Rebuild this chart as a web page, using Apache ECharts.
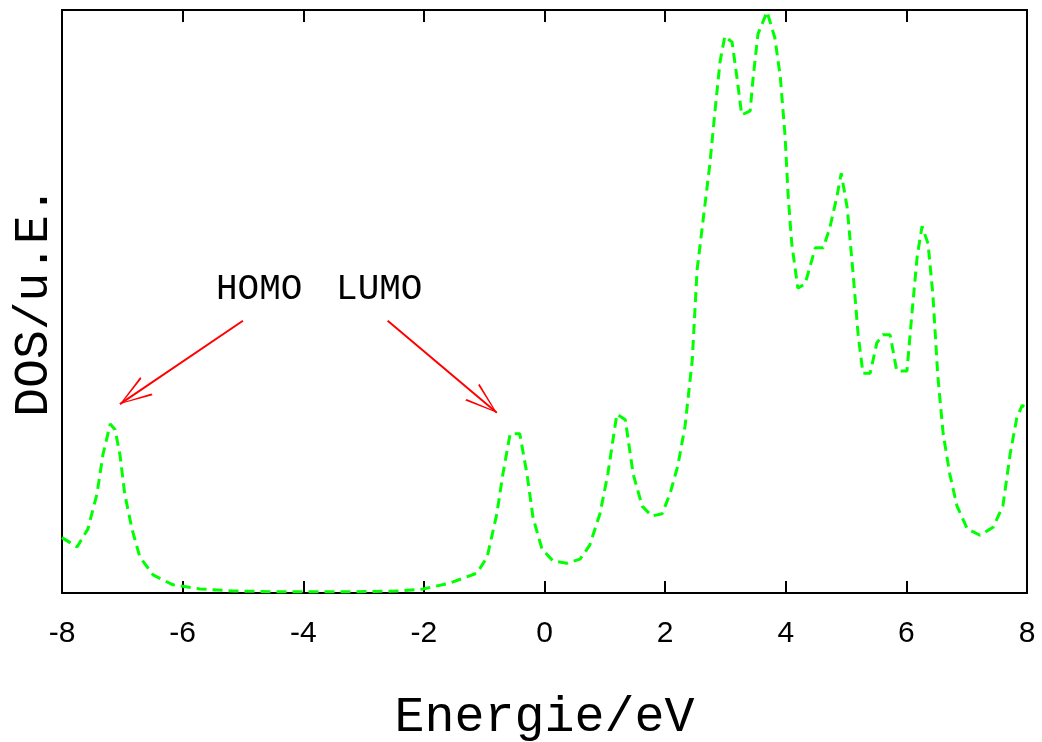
<!DOCTYPE html>
<html>
<head>
<meta charset="utf-8">
<script src="https://cdn.jsdelivr.net/npm/echarts@6/dist/echarts.min.js"></script>
<style>
  html, body { margin: 0; padding: 0; background: #fff; }
  #chart { width: 1042px; height: 742px; }
</style>
</head>
<body>
<div id="chart"></div>
<script>
// energy (eV) and DOS (arb. units, 0..100)
const energy = [
  -8.00, -7.75, -7.57, -7.42, -7.32, -7.20, -7.12, -7.04, -6.96, -6.84,
  -6.71, -6.49, -6.16, -5.71, -5.16, -4.39, -3.22, -2.40, -2.01, -1.57,
  -1.12, -0.95, -0.79, -0.69, -0.57, -0.41, -0.29, -0.19, -0.04, 0.14,
  0.37, 0.59, 0.75, 0.92, 1.05, 1.20, 1.34, 1.47, 1.62, 1.78,
  1.95, 2.08, 2.21, 2.33, 2.45, 2.53, 2.63, 2.74, 2.83, 2.91,
  2.99, 3.11, 3.19, 3.27, 3.41, 3.46, 3.54, 3.69, 3.82, 3.91,
  3.99, 4.04, 4.10, 4.20, 4.32, 4.49, 4.62, 4.73, 4.85, 4.92,
  5.02, 5.12, 5.20, 5.28, 5.40, 5.51, 5.61, 5.73, 5.84, 6.01,
  6.09, 6.18, 6.26, 6.36, 6.44, 6.52, 6.61, 6.72, 6.84, 7.01,
  7.22, 7.44, 7.60, 7.72, 7.83, 7.92, 8.00
];
const dos = [
  9.5, 7.9, 11.0, 17.0, 23.8, 29.0, 28.0, 23.8, 17.0, 11.0,
  6.2, 3.1, 1.4, 0.7, 0.35, 0.2, 0.2, 0.35, 0.7, 1.7,
  3.4, 6.2, 13.6, 20.4, 27.3, 27.3, 20.4, 12.9, 7.5, 5.5,
  5.1, 5.8, 8.2, 13.6, 20.4, 30.7, 29.7, 20.4, 14.9, 13.2,
  13.6, 17.0, 21.8, 28.6, 40.0, 55.4, 64.0, 73.4, 83.0, 91.1,
  95.5, 94.5, 88.5, 82.0, 82.7, 88.5, 95.9, 99.7, 95.2, 88.5,
  78.2, 68.1, 59.9, 52.3, 53.0, 59.2, 59.2, 62.6, 68.1, 72.0,
  66.0, 54.4, 44.3, 37.7, 37.7, 42.9, 44.3, 44.3, 38.1, 38.1,
  47.7, 57.8, 62.9, 59.9, 51.1, 37.4, 27.3, 20.4, 14.9, 11.0,
  9.9, 11.3, 14.9, 23.8, 30.0, 32.2, 31.6
];

const labels = ['HOMO', 'LUMO'];
const labelPos = [[-4.73, 52], [-2.74, 52]];
const arrowFrom = [[-5.0, 46.7], [-2.6, 46.7]];
const arrowTo = [[-7.04, 32.4], [-0.79, 30.9]];

const chart = echarts.init(document.getElementById('chart'), null, { renderer: 'canvas' });

const monoFont = '"Liberation Mono", "DejaVu Sans Mono", monospace';
// open arrow head; a tiny speck at the top keeps the tip at the symbol centre
const chevron = 'path://M10.95,0 L11.05,0 L11,0.05 Z M11,32 L22,64 L20,64 L11,35.5 L2,64 L0,64 Z';

const option = {
  animation: false,
  grid: {
    left: 62, right: 15, top: 10, bottom: 149,
    outerBoundsMode: 'none',
    containLabel: false,
    show: true, borderColor: '#000', borderWidth: 2, backgroundColor: 'transparent'
  },
  xAxis: [{
    type: 'value',
    min: -8, max: 8, interval: 2,
    position: 'bottom',
    name: 'Energie/eV',
    nameLocation: 'middle',
    nameGap: 100,
    nameTextStyle: { fontFamily: monoFont, fontSize: 50, color: '#000' },
    axisLine: { show: false },
    axisTick: { show: true, inside: true, length: 12, lineStyle: { color: '#000', width: 2 } },
    axisLabel: { fontFamily: '"Liberation Sans", Arial, sans-serif', fontSize: 30, color: '#000', margin: 26 },
    splitLine: { show: false }
  }, {
    type: 'value',
    min: -8, max: 8, interval: 2,
    position: 'top',
    axisLine: { show: false },
    axisTick: { show: true, inside: true, length: 12, lineStyle: { color: '#000', width: 2 } },
    axisLabel: { show: false },
    splitLine: { show: false }
  }],
  yAxis: {
    type: 'value',
    min: 0, max: 100,
    name: 'DOS/u.E.',
    nameLocation: 'middle',
    nameGap: 4,
    nameTextStyle: { fontFamily: monoFont, fontSize: 48, color: '#000' },
    axisLine: { show: false },
    axisTick: { show: false },
    axisLabel: { show: false },
    splitLine: { show: false }
  },
  series: [{
    type: 'line',
    data: energy.map((e, i) => [e, dos[i]]),
    showSymbol: false,
    smooth: false,
    lineStyle: { color: '#00ff00', width: 3, type: [10, 6] },
    markLine: {
      silent: true,
      symbol: ['none', chevron],
      symbolSize: [22, 64],
      lineStyle: { color: '#ff0000', width: 2, type: 'solid' },
      label: { show: false },
      data: arrowFrom.map((p, i) => [{ coord: p }, { coord: arrowTo[i] }])
    },
    markPoint: {
      silent: true,
      symbol: 'circle',
      symbolSize: 0,
      label: {
        show: true,
        position: 'inside',
        fontFamily: monoFont,
        fontSize: 36,
        color: '#000',
        formatter: p => p.name
      },
      data: labels.map((t, i) => ({ name: t, coord: labelPos[i] }))
    }
  }]
};

chart.setOption(option);
</script>
</body>
</html>
